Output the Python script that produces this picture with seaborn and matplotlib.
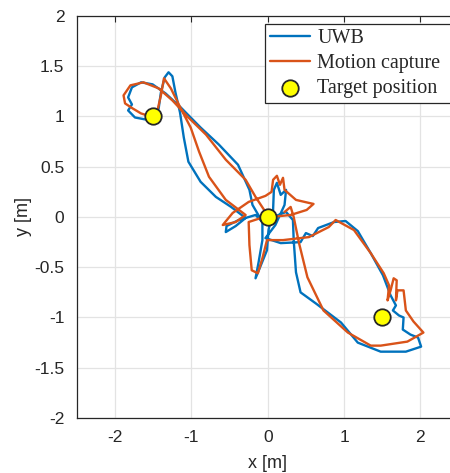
import matplotlib
matplotlib.use("Agg")
import matplotlib.pyplot as plt
import pandas as pd
import seaborn as sns

# UWB trajectory (metres)
uwb_x = [-0.07, -0.20, -0.24, -0.39, -0.64, -0.88, -1.14, -1.34, -1.51, -1.66,
         -1.78, -1.83, -1.78, -1.83, -1.74, -1.60, -1.49, -1.43, -1.40, -1.35,
         -1.30, -1.25, -1.21, -1.15, -1.10, -1.04, -0.88, -0.68, -0.48, -0.29,
         -0.42, -0.55, -0.54, -0.38, -0.16, -0.07, -0.07, -0.12, -0.16, -0.09,
         -0.01, 0.01, 0.07, 0.08, 0.12, 0.17, 0.24, 0.22, 0.10, -0.03,
         0.17, 0.43, 0.50, 0.59, 0.66, 0.87, 1.02, 1.18, 1.35, 1.51,
         1.61, 1.68, 1.64, 1.72, 1.78, 1.77, 1.87, 1.97, 2.01, 1.81,
         1.48, 1.18, 0.96, 0.63, 0.43, 0.37, 0.34, 0.33, 0.24, 0.04]
uwb_y = [-0.05, 0.12, 0.27, 0.52, 0.72, 0.89, 1.09, 1.23, 1.32, 1.34,
         1.29, 1.19, 1.12, 1.06, 0.99, 0.97, 0.99, 1.08, 1.24, 1.39,
         1.44, 1.40, 1.24, 1.04, 0.79, 0.55, 0.35, 0.20, 0.10, -0.01,
         -0.09, -0.15, -0.09, -0.03, 0.02, -0.05, -0.23, -0.45, -0.61, -0.48,
         -0.33, -0.13, 0.07, 0.27, 0.34, 0.22, 0.27, 0.12, -0.08, -0.21,
         -0.26, -0.25, -0.16, -0.19, -0.11, -0.05, -0.04, -0.14, -0.36, -0.58,
         -0.78, -0.88, -0.93, -0.98, -1.00, -1.12, -1.17, -1.20, -1.29, -1.34,
         -1.34, -1.25, -1.05, -0.86, -0.75, -0.55, -0.23, -0.03, 0.05, -0.01]

# motion capture trajectory
mocap_x = [-0.03, -0.16, -0.29, -0.55, -0.81, -1.04, -1.25, -1.43, -1.63, -1.80,
           -1.89, -1.87, -1.77, -1.66, -1.53, -1.44, -1.40, -1.36, -1.27, -1.14,
           -1.01, -0.90, -0.77, -0.55, -0.29, -0.42, -0.59, -0.46, -0.25, -0.03,
           0.05, 0.07, 0.12, 0.16, 0.20, 0.22, 0.37, 0.54, 0.60, 0.51,
           0.30, -0.09, -0.25, -0.24, -0.21, -0.13, -0.07, -0.01, 0.20, 0.54,
           0.80, 0.89, 1.13, 1.35, 1.52, 1.59, 1.57, 1.61, 1.65, 1.69,
           1.68, 1.70, 1.78, 1.81, 1.91, 2.04, 1.83, 1.48, 1.35, 1.05,
           0.73, 0.52, 0.41, 0.34, 0.30, 0.22]
mocap_y = [0.05, 0.20, 0.37, 0.57, 0.82, 0.99, 1.16, 1.28, 1.34, 1.31,
           1.21, 1.13, 1.08, 1.03, 1.00, 1.08, 1.21, 1.38, 1.28, 1.08,
           0.89, 0.65, 0.40, 0.17, 0.02, -0.05, -0.08, 0.04, 0.15, 0.21,
           0.25, 0.37, 0.41, 0.32, 0.39, 0.27, 0.17, 0.14, 0.13, 0.07,
           0.02, -0.01, -0.05, -0.28, -0.53, -0.56, -0.41, -0.23, -0.23, -0.20,
           -0.10, -0.03, -0.13, -0.36, -0.56, -0.68, -0.83, -0.73, -0.61, -0.63,
           -0.83, -0.73, -0.73, -0.93, -1.04, -1.15, -1.24, -1.28, -1.28, -1.15,
           -0.93, -0.60, -0.26, 0.00, 0.10, 0.05]

# target positions
target_x = [-1.5, 0.0, 1.5]
target_y = [1.0, 0.0, -1.0]

x_ticks = [-2, -1, 0, 1, 2]
y_ticks = [-2, -1.5, -1, -0.5, 0, 0.5, 1, 1.5, 2]

sns.set_style("white")
plt.rcParams['font.family'] = ['Liberation Sans', 'DejaVu Sans']
plt.rcParams['axes.unicode_minus'] = False

uwb = pd.DataFrame({'x': uwb_x, 'y': uwb_y})
mocap = pd.DataFrame({'x': mocap_x, 'y': mocap_y})
targets = pd.DataFrame({'x': target_x, 'y': target_y})

fig = plt.figure(figsize=(4.5, 4.73), dpi=100)
# axes run a little past the right edge of the picture, as in the reference
ax = fig.add_axes([0.1711, 0.1163, 0.8478, 0.8499])

sns.lineplot(data=uwb, x='x', y='y', sort=False, estimator=None, ax=ax,
             color='#0072BD', lw=1.7, label='UWB')
sns.lineplot(data=mocap, x='x', y='y', sort=False, estimator=None, ax=ax,
             color='#D95319', lw=1.7, label='Motion capture')
sns.scatterplot(data=targets, x='x', y='y', ax=ax, s=140, color='#FFFF00',
                edgecolor='#262626', linewidth=1.3, zorder=5,
                label='Target position')

ax.set_xlim(-2.5, 2.5)
ax.set_ylim(-2, 2)
ax.set_xticks(x_ticks)
ax.set_yticks(y_ticks)
ax.set_xticklabels([f'{v:g}' for v in x_ticks])
ax.set_yticklabels([f'{v:g}' for v in y_ticks])
ax.grid(True, color='#e3e3e3', lw=0.9)
ax.set_axisbelow(True)
ax.tick_params(direction='in', length=4, width=0.8, colors='#262626',
               labelsize=12.5, top=True, right=True, pad=9)
for s in ax.spines.values():
    s.set_color('#262626')
    s.set_linewidth(0.9)
ax.set_xlabel('x [m]', fontsize=13, color='#262626', labelpad=7)
ax.set_ylabel('y [m]', fontsize=13, color='#262626', labelpad=2)

leg = ax.legend(loc='upper left',
                bbox_to_anchor=(265 / 450, 1 - 104 / 473, 200 / 450, 80 / 473),
                bbox_transform=fig.transFigure, mode='expand', frameon=True,
                fancybox=False, framealpha=1, edgecolor='#262626',
                borderpad=0.25, labelspacing=0.3, handlelength=2.0,
                handletextpad=0.35, borderaxespad=0,
                prop={'family': 'Liberation Serif', 'size': 14.5})
leg.get_frame().set_linewidth(0.9)

fig.savefig('out.png', dpi=100)
